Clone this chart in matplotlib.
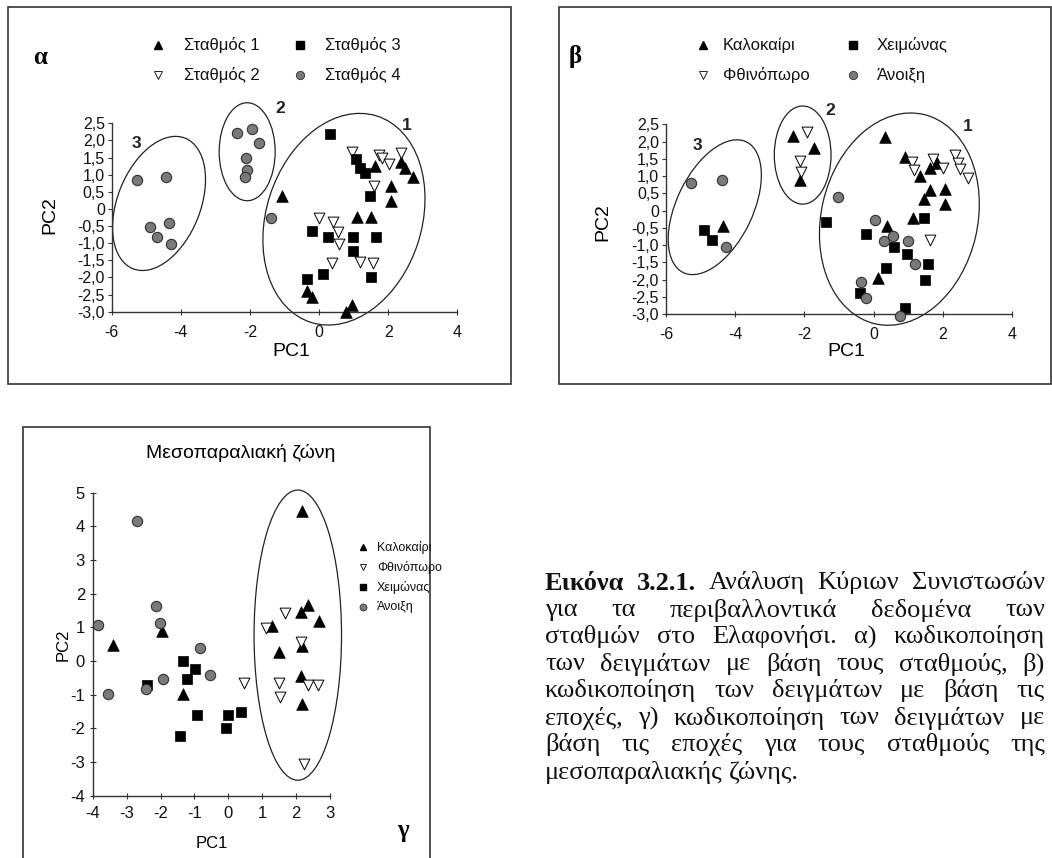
import matplotlib
matplotlib.use('Agg')
import matplotlib.pyplot as plt
from matplotlib.patches import Ellipse, Rectangle
from matplotlib.lines import Line2D

plt.rcParams['font.family'] = ['Liberation Sans', 'DejaVu Sans']

# ---- (α) samples coded by station ----
a_st1_x = [-1.06, 1.63, 2.36, 2.49, 2.73, 2.08, 2.08, 1.11, 1.49, -0.36, -0.20, 0.95, 0.77]
a_st1_y = [0.39, 1.25, 1.38, 1.20, 0.94, 0.67, 0.23, -0.23, -0.23, -2.40, -2.56, -2.80, -3.02]
a_st2_x = [0.95, 1.73, 1.83, 2.02, 2.36, 1.59, 0.01, 0.40, 0.56, 0.58, 0.37, 1.18, 1.57]
a_st2_y = [1.67, 1.56, 1.48, 1.31, 1.64, 0.67, -0.25, -0.39, -0.68, -1.02, -1.59, -1.54, -1.57]
a_st3_x = [0.32, 1.07, 1.18, 1.33, 1.47, -0.19, 0.27, 0.99, 1.65, 0.97, 0.12, -0.36, 1.49]
a_st3_y = [2.19, 1.45, 1.20, 1.04, 0.38, -0.65, -0.83, -0.83, -0.81, -1.22, -1.90, -2.05, -2.00]
a_st4_x = [-5.27, -4.42, -4.90, -4.34, -4.69, -4.28, -2.36, -1.93, -1.73, -2.11, -2.08, -2.14, -1.40]
a_st4_y = [0.84, 0.92, -0.54, -0.40, -0.81, -1.02, 2.21, 2.33, 1.92, 1.48, 1.14, 0.92, -0.27]
a_labels = ['Σταθμός 1', 'Σταθμός 2', 'Σταθμός 3', 'Σταθμός 4']

# ---- (β) same samples coded by season ----
b_sum_x = [-4.35, -2.34, -1.73, -2.14, 0.32, 0.92, 1.33, 1.64, 1.83, 1.62, 2.07, 1.47, 2.07, 1.14, 0.39, 0.12]
b_sum_y = [-0.44, 2.16, 1.82, 0.89, 2.12, 1.56, 1.00, 1.23, 1.37, 0.60, 0.62, 0.33, 0.19, -0.22, -0.44, -1.96]
b_aut_x = [-1.93, -2.12, -2.10, 1.11, 1.18, 1.73, 2.02, 2.36, 2.43, 2.51, 2.74, 1.62]
b_aut_y = [2.29, 1.45, 1.13, 1.42, 1.18, 1.49, 1.23, 1.61, 1.37, 1.20, 0.94, -0.85]
b_win_x = [-4.91, -4.67, -1.37, 1.47, -0.21, 0.58, 0.97, 1.56, 0.37, 1.49, -0.40, 0.92]
b_win_y = [-0.56, -0.85, -0.32, -0.22, -0.67, -1.04, -1.25, -1.55, -1.67, -2.00, -2.39, -2.83]
b_spr_x = [-5.27, -4.38, -4.28, -1.04, 0.03, 0.29, 0.56, 0.99, 1.19, -0.36, -0.21, 0.77]
b_spr_y = [0.81, 0.89, -1.04, 0.39, -0.27, -0.87, -0.73, -0.87, -1.54, -2.07, -2.54, -3.04]
season_labels = ['Καλοκαίρι', 'Φθινόπωρο', 'Χειμώνας', 'Άνοιξη']

# ---- (γ) mid-littoral zone stations by season ----
g_sum_x = [-3.41, -1.96, -1.35, 2.18, 2.34, 2.14, 2.68, 1.30, 2.16, 1.50, 2.14, 2.18]
g_sum_y = [0.49, 0.90, -0.99, 4.46, 1.65, 1.46, 1.18, 1.03, 0.44, 0.27, -0.45, -1.27]
g_aut_x = [1.67, 1.11, 2.14, 0.47, 1.50, 2.36, 2.64, 1.53, 2.24]
g_aut_y = [1.43, 0.98, 0.57, -0.65, -0.65, -0.70, -0.70, -1.07, -3.07]
g_win_x = [-1.33, -0.98, -1.23, -2.41, -0.93, 0.00, -0.07, -1.42, 0.37]
g_win_y = [0.00, -0.23, -0.53, -0.72, -1.61, -1.61, -1.98, -2.23, -1.52]
g_spr_x = [-2.68, -2.13, -2.01, -3.83, -0.83, -0.54, -1.92, -2.43, -3.56]
g_spr_y = [4.17, 1.62, 1.13, 1.06, 0.39, -0.42, -0.52, -0.84, -0.97]

W, H = 1052, 858
fig = plt.figure(figsize=(W / 100, H / 100), dpi=100)
fig.patch.set_facecolor('white')


def fx(px):
    return px / W


def fy(py):
    return 1 - py / H


def add_axes_px(x0, y0, x1, y1):
    return fig.add_axes([fx(x0), fy(y1), (x1 - x0) / W, (y1 - y0) / H])


STYLES = [
    dict(marker='^', s=70, facecolors='black', edgecolors='black', linewidths=0.5),
    dict(marker='v', s=60, facecolors='white', edgecolors='black', linewidths=0.7),
    dict(marker='s', s=55, facecolors='black', edgecolors='black', linewidths=0.5),
    dict(marker='o', s=55, facecolors='#7a7a7a', edgecolors='#303030', linewidths=0.8),
]
LEG = [
    dict(marker='^', color='black', mfc='black', mec='black'),
    dict(marker='v', color='black', mfc='white', mec='black', mew=0.6),
    dict(marker='s', color='black', mfc='black', mec='black'),
    dict(marker='o', color='black', mfc='#7a7a7a', mec='#303030', mew=0.6),
]


def style_axes(ax, fs):
    for s in ['top', 'right']:
        ax.spines[s].set_visible(False)
    for s in ['left', 'bottom']:
        ax.spines[s].set_color('#333333')
        ax.spines[s].set_linewidth(1.0)
    ax.set_facecolor('none')
    ax.tick_params(axis='both', colors='#333333', labelcolor='#111111', labelsize=fs, width=0.8)


def pc_axes(ax):
    ax.set_xlim(-6, 4)
    ax.set_ylim(-3, 2.5)
    ax.set_xticks([-6, -4, -2, 0, 2, 4])
    ax.set_xticklabels(['-6', '-4', '-2', '0', '2', '4'])
    yt = [-3.0, -2.5, -2.0, -1.5, -1.0, -0.5, 0.0, 0.5, 1.0, 1.5, 2.0, 2.5]
    ax.set_yticks(yt)
    ax.set_yticklabels(['0' if v == 0 else f'{v:.1f}'.replace('.', ',') for v in yt])
    style_axes(ax, 11.5)
    ax.tick_params(axis='y', direction='out', length=3, pad=2)
    ax.tick_params(axis='x', direction='inout', length=5, pad=7)


def draw_ellipses(ax, specs):
    for cx, cy, w, h, ang in specs:
        ax.add_patch(Ellipse((cx, cy), w, h, angle=ang, fill=False,
                             edgecolor='#222222', lw=0.9, clip_on=False))


def cluster_numbers(ax, pos):
    for txt, (x, y) in pos.items():
        ax.text(x, y, txt, fontsize=12.5, fontweight='bold', ha='center', va='center',
                color='#222222', clip_on=False)


def legend_px(entries, size, ms):
    for (mx, tx, y), lab, st in entries:
        fig.add_artist(Line2D([fx(mx)], [fy(y)], transform=fig.transFigure,
                              linestyle='none', ms=ms, **st))
        fig.text(fx(tx), fy(y), lab, fontsize=size, va='center', ha='left', color='#111111')


# panel frames
for x0, y0, x1, y1 in [(8, 7, 511, 384), (559, 7, 1051, 384), (23, 427, 430, 860)]:
    fig.add_artist(Rectangle((fx(x0), fy(y1)), (x1 - x0) / W, (y1 - y0) / H,
                             transform=fig.transFigure, fill=False,
                             edgecolor='#333333', lw=1.2))

# ---------- α ----------
ax1 = add_axes_px(111.7, 123.3, 457.3, 311.7)
pc_axes(ax1)
draw_ellipses(ax1, [(0.72, -0.30, 6.32, 4.50, 72.6),
                    (-2.08, 1.67, 2.86, 1.62, 90),
                    (-4.63, 0.16, 4.10, 2.40, 68.6)])
for xs, ys, st in zip([a_st1_x, a_st2_x, a_st3_x, a_st4_x],
                      [a_st1_y, a_st2_y, a_st3_y, a_st4_y], STYLES):
    ax1.scatter(xs, ys, clip_on=False, zorder=3, **st)
cluster_numbers(ax1, {'1': (2.53, 2.45), '2': (-1.11, 2.94), '3': (-5.27, 1.92)})
fig.text(fx(50), fy(215), 'PC2', rotation=90, fontsize=14, ha='center', va='center')
fig.text(fx(291), fy(352), 'PC1', fontsize=14, ha='center', va='center')
fig.text(fx(40), fy(57), 'α', fontsize=18, fontweight='bold', family='Liberation Serif',
         ha='center', va='center')
legend_px([((158, 184, 45), a_labels[0], LEG[0]), ((158, 184, 75), a_labels[1], LEG[1]),
           ((300, 325, 45), a_labels[2], LEG[2]), ((300, 325, 75), a_labels[3], LEG[3])],
          12, 6)

# ---------- β ----------
ax2 = add_axes_px(666, 124.3, 1012, 314.3)
pc_axes(ax2)
draw_ellipses(ax2, [(0.745, -0.245, 6.22, 4.52, 77),
                    (-2.05, 1.61, 2.84, 1.64, 90),
                    (-4.59, 0.10, 4.20, 2.20, 64.3)])
for xs, ys, st in zip([b_sum_x, b_aut_x, b_win_x, b_spr_x],
                      [b_sum_y, b_aut_y, b_win_y, b_spr_y], STYLES):
    ax2.scatter(xs, ys, clip_on=False, zorder=3, **st)
cluster_numbers(ax2, {'1': (2.72, 2.43), '2': (-1.25, 2.91), '3': (-5.09, 1.90)})
fig.text(fx(603), fy(222), 'PC2', rotation=90, fontsize=14, ha='center', va='center')
fig.text(fx(846), fy(352), 'PC1', fontsize=14, ha='center', va='center')
fig.text(fx(575), fy(57), 'β', fontsize=18, fontweight='bold', family='Liberation Serif',
         ha='center', va='center')
legend_px([((703, 723, 45), season_labels[0], LEG[0]), ((703, 723, 75), season_labels[1], LEG[1]),
           ((853, 877, 45), season_labels[2], LEG[2]), ((853, 877, 75), season_labels[3], LEG[3])],
          12, 6)

# ---------- γ ----------
ax3 = add_axes_px(92.7, 492.7, 330, 795.7)
ax3.set_xlim(-4, 3)
ax3.set_ylim(-4, 5)
ax3.set_xticks(range(-4, 4))
ax3.set_xticklabels([str(v) for v in range(-4, 4)])
ax3.set_yticks(range(-4, 6))
ax3.set_yticklabels([str(v) for v in range(-4, 6)])
style_axes(ax3, 12)
ax3.tick_params(axis='both', direction='inout', length=5)
ax3.tick_params(axis='y', pad=3)
ax3.tick_params(axis='x', pad=5)
draw_ellipses(ax3, [(2.05, 0.77, 2.58, 8.62, 0)])
for xs, ys, st in zip([g_sum_x, g_aut_x, g_win_x, g_spr_x],
                      [g_sum_y, g_aut_y, g_win_y, g_spr_y], STYLES):
    ax3.scatter(xs, ys, clip_on=False, zorder=3, **st)
fig.text(fx(241), fy(453), 'Μεσοπαραλιακή ζώνη', fontsize=14, ha='center', va='center')
fig.text(fx(63), fy(645), 'PC2', rotation=90, fontsize=12, ha='center', va='center')
fig.text(fx(212), fy(843), 'PC1', fontsize=12, ha='center', va='center')
fig.text(fx(403), fy(830), 'γ', fontsize=18, fontweight='bold', family='Liberation Serif',
         ha='center', va='center')
legend_px([((363, 377, 547 + 20 * i), season_labels[i], LEG[i]) for i in range(4)], 9, 5)

# ---------- caption, justified ----------
caption_lines = [
    [('Εικόνα', 'bold'), ('3.2.1.', 'bold'), ('Ανάλυση', 'normal'), ('Κύριων', 'normal'),
     ('Συνιστωσών', 'normal')],
    'για τα περιβαλλοντικά δεδομένα των',
    'σταθμών στο Ελαφονήσι. α) κωδικοποίηση',
    'των δειγμάτων με βάση τους σταθμούς, β)',
    'κωδικοποίηση των δειγμάτων με βάση τις',
    'εποχές, γ) κωδικοποίηση των δειγμάτων με',
    'βάση τις εποχές για τους σταθμούς της',
    'μεσοπαραλιακής ζώνης.',
]
cap_x0, cap_x1, cap_y0, cap_dy = 545, 1045, 583, 27
renderer = fig.canvas.get_renderer()
for i, line in enumerate(caption_lines):
    words = line if isinstance(line, list) else [(w, 'normal') for w in line.split()]
    y = cap_y0 + i * cap_dy
    texts = [fig.text(0, fy(y), w, fontsize=19, fontweight=wt, family='Liberation Serif',
                      ha='left', va='center', color='#111111') for w, wt in words]
    widths = [t.get_window_extent(renderer).width for t in texts]
    last = i == len(caption_lines) - 1
    gap = 6.5 if last else (cap_x1 - cap_x0 - sum(widths)) / (len(texts) - 1)
    x = cap_x0
    for t, w in zip(texts, widths):
        t.set_x(fx(x))
        x += w + gap

fig.savefig('out.png', dpi=100, facecolor='white')
